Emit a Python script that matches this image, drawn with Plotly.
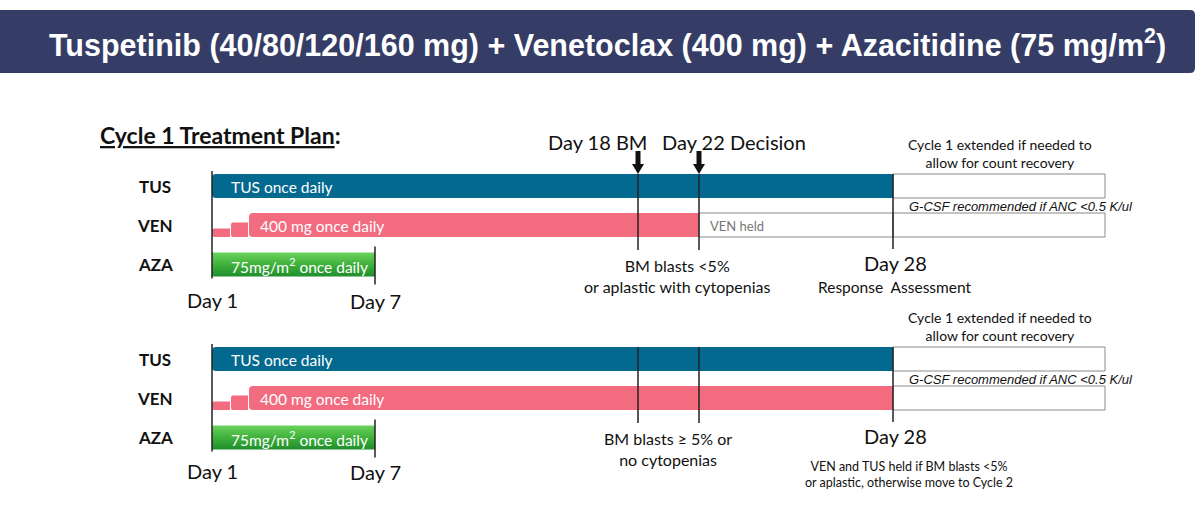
import plotly.graph_objects as go

# ---- data ----
title_text = "Tuspetinib (40/80/120/160 mg) + Venetoclax (400 mg) + Azacitidine (75 mg/m<sup>2</sup>)"
drugs = ["TUS", "VEN", "AZA"]
drug_colors = ["#04698f", "#f26b7f", "#3fb13c"]
bar_labels = ["TUS once daily", "400 mg once daily", "75mg/m<sup>2</sup> once daily"]

# schematic timeline: milestone days and where they sit on the (non-linear) schematic axis
milestone_days = [1, 7, 18, 22, 28]
milestone_pos = [212, 375, 638, 699, 893]
extension_end = 1105

# last dosing day per drug, for each scenario panel
panel1_end = [28, 22, 7]
panel2_end = [28, 28, 7]

# venetoclax ramp-up steps (start position, relative bar height)
ven_ramp_pos = [212, 231, 249]
ven_ramp_frac = [0.35, 0.6, 1.0]

panel1_note = "BM blasts &lt;5%<br>or aplastic with cytopenias"
panel2_note = "BM blasts \u2265 5% or<br>no cytopenias"
extension_note = "Cycle 1 extended if needed to<br>allow for count recovery"
gcsf_note = "<i>G-CSF recommended if ANC &lt;0.5 K/ul</i>"
day28_note_1 = "Response  Assessment"
day28_note_2 = "VEN and TUS held if BM blasts &lt;5%<br>or aplastic, otherwise move to Cycle 2"

# ---- layout helpers ----
pos = dict(zip(milestone_days, milestone_pos))
row_y = [186, 225, 264.5]
panel_offset = [0, 173]
bar_h = 24
FONT = "Lato, Open Sans, sans-serif"
LINE = "#222222"

fig = go.Figure()
shapes = []
annotations = []


def rounded_rect(x0, y0, x1, y1, r=4):
    return (f"M {x0 + r},{y0} L {x1},{y0} L {x1},{y1} L {x0 + r},{y1} "
            f"Q {x0},{y1} {x0},{y1 - r} L {x0},{y0 + r} Q {x0},{y0} {x0 + r},{y0} Z")


def text(x, y, s, size, color="#111111", xanchor="center", bold=False, family=FONT):
    if bold:
        s = f"<b>{s}</b>"
    annotations.append(dict(x=x, y=y, text=s, showarrow=False, xanchor=xanchor,
                            yanchor="middle", font=dict(size=size, color=color, family=family)))


def vline(x, y0, y1, width=1.5):
    shapes.append(dict(type="line", x0=x, x1=x, y0=y0, y1=y1,
                       line=dict(color=LINE, width=width)))


def down_arrow(x, y_tip, length=23):
    # block arrow pointing down at a milestone
    shapes.append(dict(type="rect", x0=x - 2.5, x1=x + 2.5, y0=y_tip - length, y1=y_tip - 9,
                       fillcolor="#111111", line=dict(width=0)))
    shapes.append(dict(type="path",
                       path=f"M {x - 6},{y_tip - 10} L {x + 6},{y_tip - 10} L {x},{y_tip} Z",
                       fillcolor="#111111", line=dict(width=0)))


# title banner (square left edge, rounded right corners)
shapes.append(dict(type="path",
                   path="M 0,10 L 1190,10 Q 1195,10 1195,15 L 1195,68 Q 1195,73 1190,73 L 0,73 Z",
                   fillcolor="#353c65", line=dict(width=0), layer="below"))
text(607, 43, title_text, 30.5, color="white", bold=True,
     family="Liberation Sans Narrow, Arial Narrow, Liberation Sans, sans-serif")

text(98, 135, "<u>Cycle 1 Treatment Plan</u>:", 23, xanchor="left", bold=True)

for p, (off, ends) in enumerate(zip(panel_offset, [panel1_end, panel2_end])):
    ys = [y + off for y in row_y]
    top = ys[0] - bar_h / 2
    d1 = pos[1]

    # extension boxes after day 28 (TUS and VEN rows)
    for i in (0, 1):
        shapes.append(dict(type="rect", x0=pos[28], x1=extension_end,
                           y0=ys[i] - bar_h / 2, y1=ys[i] + bar_h / 2,
                           fillcolor="white", line=dict(color="#8a8a8a", width=1)))
    # VEN held box
    if ends[1] < 28:
        shapes.append(dict(type="rect", x0=pos[ends[1]], x1=pos[28],
                           y0=ys[1] - bar_h / 2, y1=ys[1] + bar_h / 2,
                           fillcolor="white", line=dict(color="#8a8a8a", width=1)))
        text(pos[ends[1]] + 9, ys[1] + 1, "VEN held", 13, color="#777777", xanchor="left")

    # drug bars
    for i, (drug, color, lab, end) in enumerate(zip(drugs, drug_colors, bar_labels, ends)):
        y0, y1 = ys[i] - bar_h / 2, ys[i] + bar_h / 2
        if drug == "VEN":
            for k in range(len(ven_ramp_pos) - 1):
                h = bar_h * ven_ramp_frac[k]
                shapes.append(dict(type="path",
                                   path=rounded_rect(ven_ramp_pos[k], y1 - h, ven_ramp_pos[k + 1] - 1, y1, r=2),
                                   fillcolor=color, line=dict(width=0)))
            x_start = ven_ramp_pos[-1]
            tx = x_start + 9
        else:
            x_start = d1
            tx = d1 + 17
        if drug == "AZA":
            # green bar with a light-to-dark vertical gradient
            fig.add_trace(go.Scatter(
                x=[x_start, pos[end], pos[end], x_start, x_start],
                y=[y0, y0, y1, y1, y0], mode="lines", fill="toself",
                line=dict(width=0, color=color), hoverinfo="skip",
                fillgradient=dict(type="vertical",
                                  colorscale=[[0, "#1f8e2c"], [0.5, "#3fb13c"], [1, "#6bd25c"]]),
            ))
        else:
            shapes.append(dict(type="path", path=rounded_rect(x_start, y0, pos[end], y1),
                               fillcolor=color, line=dict(width=0)))
        text(tx, ys[i] + 1, lab, 15.5, color="white", xanchor="left")
        text(155, ys[i], drug, 17, xanchor="center", bold=True)

    # milestone lines
    vline(d1, top - 3, ys[2] + bar_h / 2 + 2)
    vline(pos[7], ys[2] - bar_h / 2 - 6, ys[2] + bar_h / 2 + 8)
    for d in (18, 22, 28):
        vline(pos[d], top, ys[1] + bar_h / 2 + 13 if d != 28 else ys[1] + bar_h / 2 + 12)

    text(d1, 300 + off * 0.99, "Day 1", 20)
    text(pos[7], 301 + off * 0.99, "Day 7", 20)
    text(pos[28] + 2, 263 + off, "Day 28", 20)

    text(1000, 153 + off, extension_note, 14)
    text(1021, 206 + off, gcsf_note, 13, family="Liberation Sans, Arial, sans-serif")

    if p == 0:
        text(677, 276, panel1_note, 16)
        text(895, 287, day28_note_1, 15.5)
        for d, lab, xc in ((18, "Day 18 BM", 597), (22, "Day 22 Decision", 734)):
            down_arrow(pos[d], top)
            text(xc, 142, lab, 20)
    else:
        text(668, 449, panel2_note, 16)
        text(803, 474, day28_note_2, 12.5, xanchor="left")

fig.update_layout(
    width=1200, height=507,
    margin=dict(l=0, r=0, t=0, b=0),
    paper_bgcolor="white", plot_bgcolor="white",
    xaxis=dict(range=[0, 1200], visible=False, fixedrange=True),
    yaxis=dict(range=[507, 0], visible=False, fixedrange=True),
    shapes=shapes,
    annotations=annotations,
    showlegend=False,
)

fig.write_html("out.html", config={"displayModeBar": False},
               post_script="document.body.style.margin='0';")
